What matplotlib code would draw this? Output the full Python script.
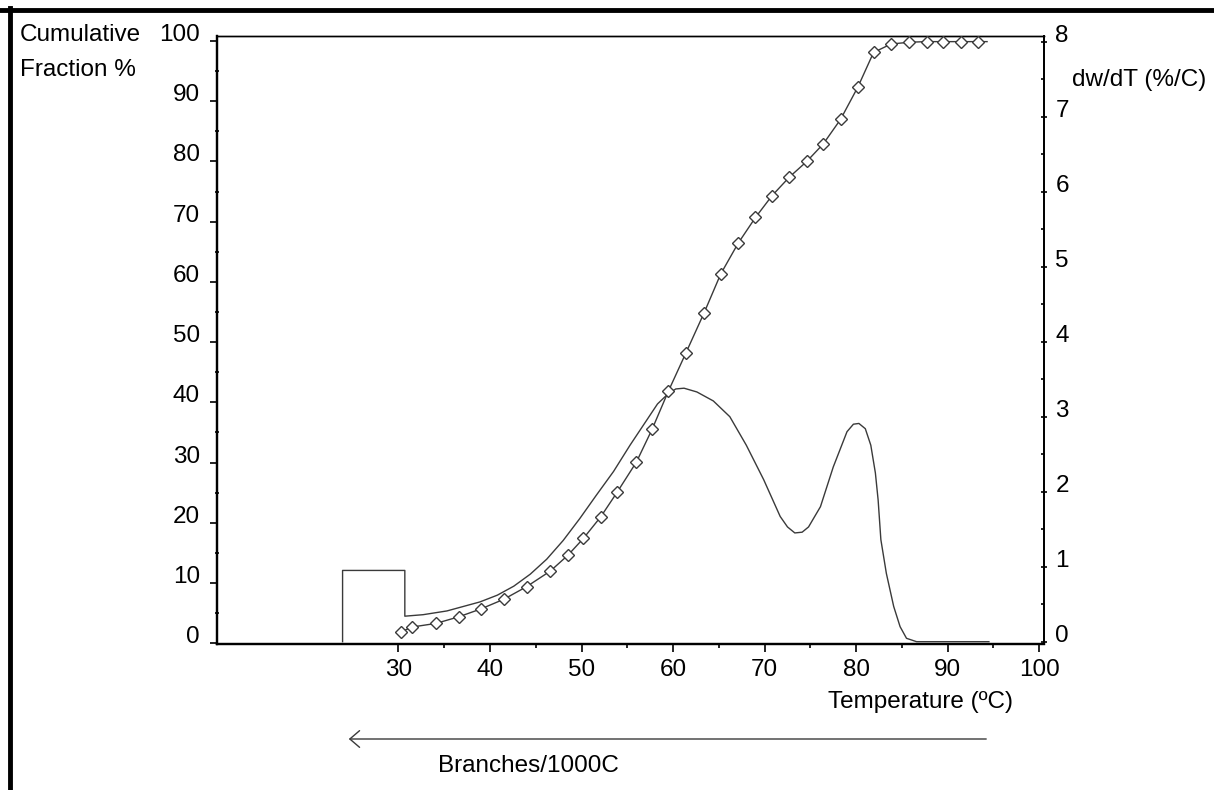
import numpy as np
import matplotlib
matplotlib.use("Agg")
import matplotlib.pyplot as plt
from matplotlib.lines import Line2D

plt.rcParams['font.family'] = ['Liberation Sans', 'DejaVu Sans']

# Cumulative fraction (%) vs temperature
cum_T = [30.3, 31.5, 34.1, 36.6, 39.0, 41.5, 44.0, 46.6, 48.5, 50.2, 52.1, 53.9,
         56.0, 57.7, 59.5, 61.4, 63.4, 65.2, 67.1, 69.0, 70.8, 72.7, 74.6, 76.4,
         78.3, 80.2, 81.9, 83.8, 85.8, 87.7, 89.5, 91.4, 93.3, 94.3]
cum_F = [1.9, 2.7, 3.3, 4.4, 5.7, 7.3, 9.4, 12.0, 14.6, 17.4, 21.0, 25.1,
         30.1, 35.5, 41.9, 48.2, 54.9, 61.3, 66.4, 70.7, 74.3, 77.4, 80.0, 82.9,
         87.0, 92.4, 98.1, 99.5, 99.8, 99.9, 99.9, 99.9, 99.9, 99.9]

# dw/dT (%/C) curve, including the soluble-fraction step at the start
dw_T = [23.9, 23.9, 30.7, 30.7, 32.7, 35.3, 38.9, 40.8, 42.6, 44.4, 46.2, 48.0,
        49.8, 51.6, 53.5, 55.3, 57.1, 58.3, 59.5, 60.3, 61.2, 62.6, 64.4, 66.2,
        68.0, 69.9, 71.7, 72.5, 73.3, 74.1, 74.8, 76.1, 77.5, 79.0, 79.7, 80.3,
        81.0, 81.6, 82.1, 82.4, 82.7, 83.3, 84.1, 84.8, 85.5, 86.6, 94.5]
dw_W = [0.0, 0.95, 0.95, 0.34, 0.36, 0.41, 0.53, 0.62, 0.74, 0.90, 1.10, 1.35,
        1.64, 1.95, 2.27, 2.62, 2.95, 3.17, 3.31, 3.37, 3.38, 3.33, 3.21, 3.00,
        2.62, 2.16, 1.67, 1.53, 1.45, 1.46, 1.53, 1.80, 2.33, 2.80, 2.90, 2.91,
        2.84, 2.62, 2.25, 1.89, 1.36, 0.91, 0.47, 0.20, 0.045, 0.0, 0.0]

x_major = [30, 40, 50, 60, 70, 80, 90, 100]
x_minor = [35, 45, 55, 65, 75, 85, 95]
left_major = list(range(0, 101, 10))
left_minor = list(range(5, 100, 10))
right_major = list(range(0, 9))
right_minor = [0.5 + i for i in range(8)]

line_col = '#3a3a3a'
fs = 17.5

fig = plt.figure(figsize=(12.14, 7.90), dpi=100)
ax = fig.add_axes([0.1785, 0.1848, 0.6817, 0.7696])
ax2 = ax.twinx()

ax.set_xlim(10.15, 100.55)
ax.set_ylim(-0.12, 100.83)
ax2.set_ylim(-0.031, 8.076)

# curves
ax2.plot(dw_T, dw_W, color=line_col, lw=1.0, zorder=2)
ax.plot(cum_T, cum_F, color=line_col, lw=1.0, marker='D', ms=6,
        mfc='white', mec=line_col, mew=1.0, markevery=slice(0, len(cum_T) - 1),
        zorder=3)
ax.set_zorder(ax2.get_zorder() + 1)
ax.patch.set_visible(False)

# ticks
ax.set_xticks(x_major)
ax.set_xticks(x_minor, minor=True)
ax.set_yticks(left_major)
ax.set_yticks(left_minor, minor=True)
ax2.set_yticks(right_major)
ax2.set_yticks(right_minor, minor=True)

ax.tick_params(axis='x', which='major', direction='out', length=6, width=1.2,
               labelsize=fs, pad=5)
ax.tick_params(axis='x', which='minor', direction='out', length=3, width=1.2)
ax.tick_params(axis='y', which='major', direction='out', length=5, width=1.2,
               labelsize=fs, pad=7)
ax.tick_params(axis='y', which='minor', direction='inout', length=3, width=1.2)
ax2.tick_params(axis='y', which='major', direction='inout', length=4, width=1.2,
                labelsize=fs, pad=6)
ax2.tick_params(axis='y', which='minor', direction='in', length=2, width=1.2)

for lab in ax.get_yticklabels() + ax2.get_yticklabels():
    lab.set_verticalalignment('baseline')

for a in (ax, ax2):
    a.spines['left'].set_linewidth(1.6)
    a.spines['bottom'].set_linewidth(1.6)
    a.spines['right'].set_linewidth(1.3)
    a.spines['top'].set_linewidth(1.0)

# axis titles
fig.text(20 / 1214, 1 - 35 / 790, 'Cumulative', fontsize=fs, ha='left', va='center')
fig.text(20 / 1214, 1 - 70 / 790, 'Fraction %', fontsize=fs, ha='left', va='center')
fig.text(1072 / 1214, 1 - 80 / 790, 'dw/dT (%/C)', fontsize=fs, ha='left', va='center')
fig.text(920 / 1214, 1 - 702 / 790, 'Temperature (ºC)', fontsize=fs, ha='center', va='center')
fig.text(438 / 1214, 1 - 766 / 790, 'Branches/1000C', fontsize=fs, ha='left', va='center')

# arrow toward lower temperature
fig.add_artist(matplotlib.patches.FancyArrowPatch(
    (989 / 1214, 1 - 739 / 790), (346 / 1214, 1 - 739 / 790),
    transform=fig.transFigure, arrowstyle='->,head_length=0.35,head_width=0.3',
    mutation_scale=20, color=line_col, lw=1.0))

# page border (top and left)
fig.add_artist(Line2D([0, 1], [1 - 10 / 790, 1 - 10 / 790], transform=fig.transFigure,
                      color='black', lw=3.5))
fig.add_artist(Line2D([9.5 / 1214, 9.5 / 1214], [0, 1 - 8 / 790], transform=fig.transFigure,
                      color='black', lw=3.5))

fig.savefig('out.png', dpi=100)
